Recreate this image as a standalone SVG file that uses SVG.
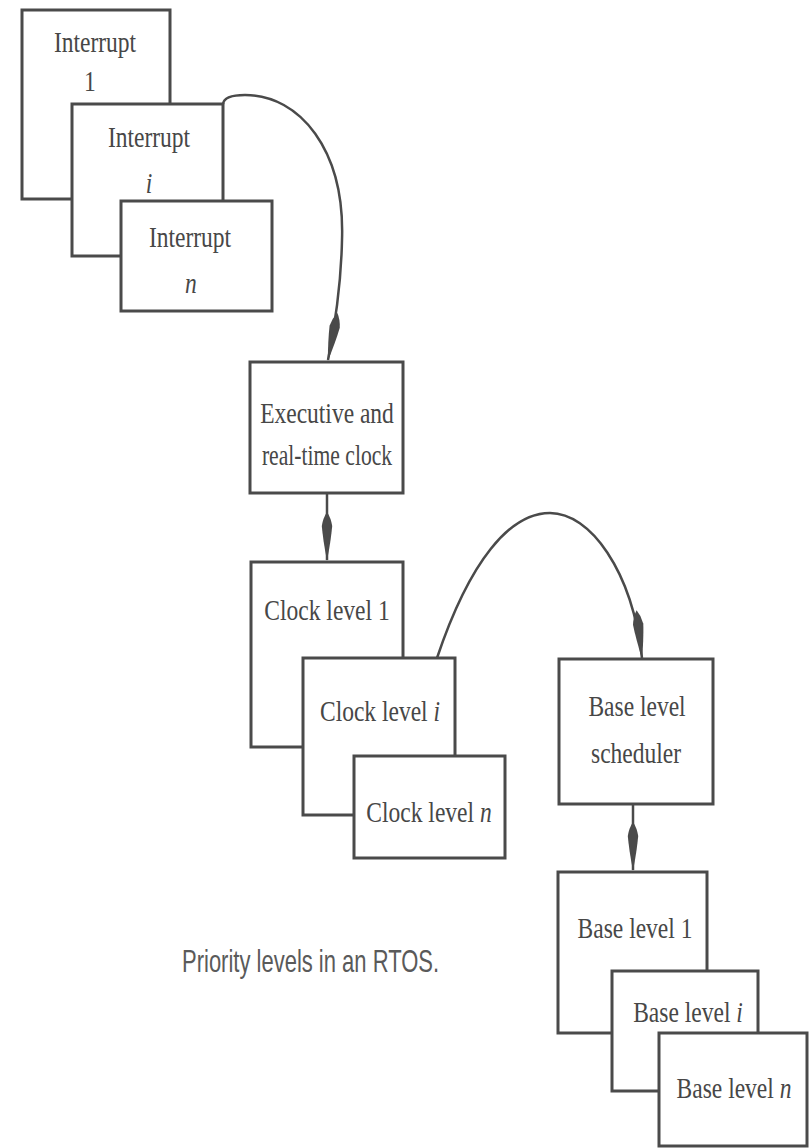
<svg xmlns="http://www.w3.org/2000/svg" width="809" height="1148" viewBox="0 0 809 1148">
<style>
.box{fill:#fff;stroke:#4a4a4a;stroke-width:3}
.t{font-family:"Liberation Serif","Times New Roman",serif;font-size:23.5px;fill:#474747;text-anchor:middle}
.cap{font-family:"Liberation Sans",Arial,sans-serif;font-size:22px;fill:#5a5a5a}
.conn{fill:none;stroke:#4a4a4a;stroke-width:2.5}
</style>
<defs>
<marker id="spindle" markerUnits="userSpaceOnUse" viewBox="-50 -7 52 14" markerWidth="52" markerHeight="14" refX="0" refY="0" orient="auto">
<path d="M1,0 Q-20,-4 -34,-5.2 Q-42,-4 -48,0 Q-42,4 -34,5.2 Q-20,4 1,0 Z" fill="#4a4a4a"/>
</marker>
</defs>
<rect width="809" height="1148" fill="#fff"/>
<g id="connectors">
<path class="conn" d="M223,104 Q224,95 245,95 C300,95 345,150 342,240 C341,290 334,330 328,360" marker-end="url(#spindle)"/>
<path class="conn" d="M327,493 L327,560" marker-end="url(#spindle)"/>
<path class="conn" d="M437,658 C470,560 510,513 550,513 C590,513 632,570 642,658" marker-end="url(#spindle)"/>
<path class="conn" d="M633,804 L633,870" marker-end="url(#spindle)"/>
</g>
<g id="interrupt-1">
<rect class="box" x="22" y="10" width="148" height="189"/>
<text class="t" transform="translate(95,52) scale(1,1.28)">Interrupt</text>
<text class="t" transform="translate(90,91) scale(1,1.28)">1</text>
</g>
<g id="interrupt-i">
<rect class="box" x="72" y="104" width="151" height="152"/>
<text class="t" transform="translate(149,147) scale(1,1.28)">Interrupt</text>
<text class="t" transform="translate(149,193) scale(1,1.28)" font-style="italic">i</text>
</g>
<g id="interrupt-n">
<rect class="box" x="121" y="201" width="151" height="110"/>
<text class="t" transform="translate(190,247) scale(1,1.28)">Interrupt</text>
<text class="t" transform="translate(191,293) scale(1,1.28)" font-style="italic">n</text>
</g>
<g id="executive">
<rect class="box" x="250" y="362" width="153" height="131"/>
<text class="t" transform="translate(327,423) scale(1,1.28)">Executive and</text>
<text class="t" transform="translate(327,465) scale(0.92,1.28)">real-time clock</text>
</g>
<g id="clock-1">
<rect class="box" x="251" y="562" width="152" height="185"/>
<text class="t" transform="translate(327,620) scale(1,1.28)">Clock level 1</text>
</g>
<g id="clock-i">
<rect class="box" x="303" y="658" width="152" height="157"/>
<text class="t" transform="translate(380,721) scale(1,1.28)">Clock level <tspan font-style="italic">i</tspan></text>
</g>
<g id="clock-n">
<rect class="box" x="354" y="756" width="151" height="102"/>
<text class="t" transform="translate(429,822) scale(1,1.28)">Clock level <tspan font-style="italic">n</tspan></text>
</g>
<g id="scheduler">
<rect class="box" x="559" y="659" width="154" height="145"/>
<text class="t" transform="translate(637,716) scale(1,1.28)">Base level</text>
<text class="t" transform="translate(636,763) scale(1,1.28)">scheduler</text>
</g>
<g id="base-1">
<rect class="box" x="558" y="872" width="149" height="161"/>
<text class="t" transform="translate(635,938) scale(1,1.28)">Base level 1</text>
</g>
<g id="base-i">
<rect class="box" x="612" y="971" width="146" height="120"/>
<text class="t" transform="translate(688,1022) scale(1,1.28)">Base level <tspan font-style="italic">i</tspan></text>
</g>
<g id="base-n">
<rect class="box" x="659" y="1033" width="148" height="113"/>
<text class="t" transform="translate(734,1098) scale(1,1.28)">Base level <tspan font-style="italic">n</tspan></text>
</g>
<g id="caption">
<text class="cap" transform="translate(182,972) scale(1,1.45)">Priority levels in an RTOS.</text>
</g>
</svg>
